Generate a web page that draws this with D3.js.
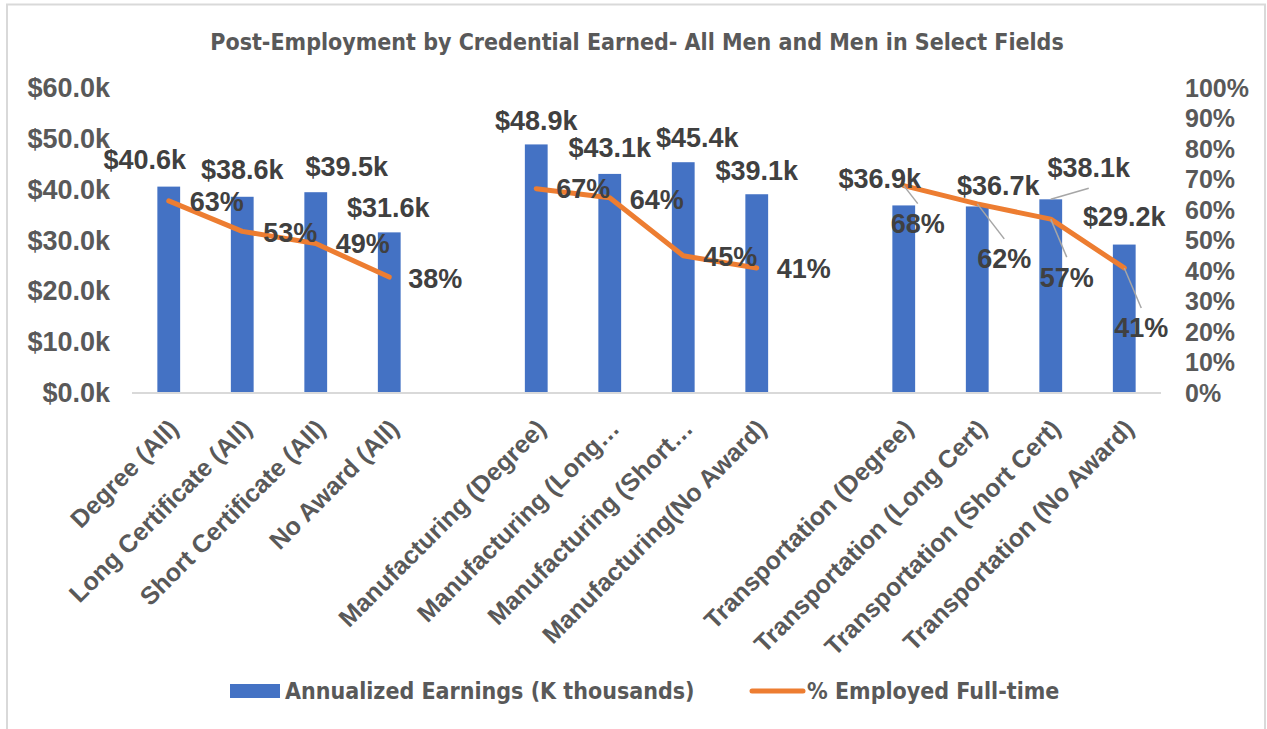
<!DOCTYPE html>
<html>
<head>
<meta charset="utf-8">
<script src="https://cdn.jsdelivr.net/npm/d3@7"></script>
<style>
  html, body { margin: 0; padding: 0; background: #fff; }
  svg { display: block; }
</style>
</head>
<body>
<svg id="chart" width="1267" height="729"></svg>
<script>
// ---------- DATA ----------
const categories = [
  "Degree (All)", "Long Certificate (All)", "Short Certificate (All)", "No Award (All)",
  "",
  "Manufacturing (Degree)", "Manufacturing (Long\u2026", "Manufacturing (Short\u2026", "Manufacturing(No Award)",
  "",
  "Transportation (Degree)", "Transportation (Long Cert)", "Transportation (Short Cert)", "Transportation (No Award)"
];
const earnings = [40.6, 38.6, 39.5, 31.6, null, 48.9, 43.1, 45.4, 39.1, null, 36.9, 36.7, 38.1, 29.2];
const pctEmployed = [63, 53, 49, 38, null, 67, 64, 45, 41, null, 68, 62, 57, 41];
const leftTicks = [0, 10, 20, 30, 40, 50, 60];
const rightTicks = [0, 10, 20, 30, 40, 50, 60, 70, 80, 90, 100];
const titleText = "Post-Employment by Credential Earned- All Men and Men in Select Fields";
const seriesNames = ["Annualized Earnings (K thousands)", "% Employed Full-time"];

// label placement nudges (dx, dy) relative to the mark anchor
const barLabelOffsets = [[-24,-27],[0,-27],[31,-26],[-1,-25],null,[0,-24],[0,-26],[14,-25],[0,-24],null,[-24,-27],[21,-21],[38,-32],[0,-28]];
const pctLabelOffsets = [[48,1],[48,1],[47,0],[46,1],null,[47,0],[47,2],[47,1],[47,1],null,[14,38],[27,55],[16,58],[17,60]];
const pctLeader = [false,false,false,false,false,false,false,false,false,false,true,true,true,true];
const barLeader = [false,false,false,false,false,false,false,false,false,false,false,false,true,false];

// ---------- LAYOUT ----------
const svg = d3.select("#chart");
const plot = { left: 132, right: 1161, top: 88, bottom: 393 };
const idx = d3.range(categories.length);

const x = d3.scaleBand().domain(idx).range([plot.left, plot.right]).paddingInner(0).paddingOuter(0);
const yL = d3.scaleLinear().domain([0, 60]).range([plot.bottom, plot.top]);
const yR = d3.scaleLinear().domain([0, 100]).range([plot.bottom, plot.top]);
const barW = x.bandwidth() * 0.31;
const cx = i => x(i) + x.bandwidth() / 2;

const condensed = "'Liberation Sans Narrow', 'DejaVu Sans Condensed', 'Roboto Condensed', sans-serif";
const sans = "'Liberation Sans', Arial, sans-serif";

// chart border
svg.append("rect").attr("x", 7).attr("y", 4.5).attr("width", 1258).attr("height", 740)
  .attr("fill", "#fff").attr("stroke", "#d9d9d9").attr("stroke-width", 2);

// title
svg.append("text").attr("x", 637).attr("y", 42).attr("dy", "0.35em")
  .attr("text-anchor", "middle")
  .style("font-family", condensed).style("font-weight", "bold").style("font-size", "23px")
  .attr("fill", "#595959").text(titleText);

// left axis
const axL = svg.append("g").attr("transform", `translate(${plot.left},0)`)
  .call(d3.axisLeft(yL).tickValues(leftTicks).tickSize(0).tickPadding(22)
    .tickFormat(d => "$" + d.toFixed(1) + "k"));
axL.select(".domain").remove();
axL.selectAll("text").style("font-family", sans).style("font-weight", "bold")
  .style("font-size", "27px").attr("fill", "#595959");

// right axis
const axR = svg.append("g").attr("transform", `translate(${plot.right},0)`)
  .call(d3.axisRight(yR).tickValues(rightTicks).tickSize(0).tickPadding(24)
    .tickFormat(d => d + "%"));
axR.select(".domain").remove();
axR.selectAll("text").style("font-family", sans).style("font-weight", "bold")
  .style("font-size", "25px").attr("fill", "#595959");

// bars
svg.append("g").selectAll("rect")
  .data(idx.filter(i => earnings[i] != null))
  .join("rect")
  .attr("x", i => cx(i) - barW / 2)
  .attr("y", i => yL(earnings[i]))
  .attr("width", barW)
  .attr("height", i => yL(0) - yL(earnings[i]))
  .attr("fill", "#4472C4");

// x axis line
svg.append("line").attr("x1", plot.left).attr("x2", plot.right)
  .attr("y1", plot.bottom).attr("y2", plot.bottom)
  .attr("stroke", "#d9d9d9").attr("stroke-width", 2);

// category labels
svg.append("g").selectAll("text")
  .data(idx.filter(i => categories[i] !== ""))
  .join("text")
  .attr("transform", i => `translate(${cx(i) + 5},${plot.bottom + 31}) rotate(-45)`)
  .attr("text-anchor", "end").attr("dy", "0.35em")
  .style("font-family", sans).style("font-weight", "bold").style("font-size", "25px")
  .attr("fill", "#595959")
  .text(i => categories[i]);

// line
const line = d3.line().defined(i => pctEmployed[i] != null)
  .x(i => cx(i)).y(i => yR(pctEmployed[i]));
svg.append("path").datum(idx).attr("d", line)
  .attr("fill", "none").attr("stroke", "#ED7D31").attr("stroke-width", 5)
  .attr("stroke-linecap", "round").attr("stroke-linejoin", "round");

// leader lines
const leaders = svg.append("g").attr("stroke", "#a6a6a6").attr("stroke-width", 1.5);
idx.forEach(i => {
  if (pctLeader[i]) {
    const ax = cx(i), ay = yR(pctEmployed[i]);
    const o = pctLabelOffsets[i];
    leaders.append("line").attr("x1", ax).attr("y1", ay)
      .attr("x2", ax + o[0]).attr("y2", ay + o[1] - 20);
  }
  if (barLeader[i]) {
    const ax = cx(i), ay = yL(earnings[i]);
    const o = barLabelOffsets[i];
    leaders.append("line").attr("x1", ax).attr("y1", ay)
      .attr("x2", ax + o[0]).attr("y2", ay + o[1] + 21);
  }
});

// bar labels
svg.append("g").selectAll("text")
  .data(idx.filter(i => earnings[i] != null))
  .join("text")
  .attr("x", i => cx(i) + barLabelOffsets[i][0])
  .attr("y", i => yL(earnings[i]) + barLabelOffsets[i][1])
  .attr("dy", "0.35em").attr("text-anchor", "middle")
  .style("font-family", sans).style("font-weight", "bold").style("font-size", "27px")
  .attr("fill", "#404040")
  .text(i => "$" + earnings[i].toFixed(1) + "k");

// pct labels
svg.append("g").selectAll("text")
  .data(idx.filter(i => pctEmployed[i] != null))
  .join("text")
  .attr("x", i => cx(i) + pctLabelOffsets[i][0])
  .attr("y", i => yR(pctEmployed[i]) + pctLabelOffsets[i][1])
  .attr("dy", "0.35em").attr("text-anchor", "middle")
  .style("font-family", sans).style("font-weight", "bold").style("font-size", "27px")
  .attr("fill", "#404040")
  .text(i => pctEmployed[i] + "%");

// legend
const lg = svg.append("g");
lg.append("rect").attr("x", 230).attr("y", 684).attr("width", 50).attr("height", 14).attr("fill", "#4472C4");
lg.append("text").attr("x", 285).attr("y", 691).attr("dy", "0.35em")
  .style("font-family", condensed).style("font-weight", "bold").style("font-size", "23px")
  .attr("fill", "#595959").text(seriesNames[0]);
lg.append("line").attr("x1", 752).attr("x2", 803).attr("y1", 691).attr("y2", 691)
  .attr("stroke", "#ED7D31").attr("stroke-width", 5).attr("stroke-linecap", "round");
lg.append("text").attr("x", 807).attr("y", 691).attr("dy", "0.35em")
  .style("font-family", condensed).style("font-weight", "bold").style("font-size", "23px")
  .attr("fill", "#595959").text(seriesNames[1]);
</script>
</body>
</html>
